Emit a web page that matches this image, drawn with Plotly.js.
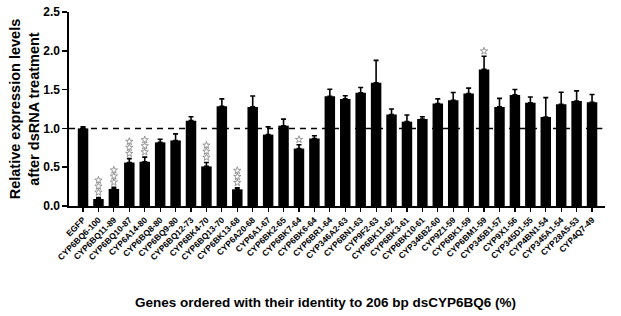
<!DOCTYPE html>
<html><head><meta charset="utf-8">
<script src="https://cdn.plot.ly/plotly-3.0.1.min.js"></script>
<style>html,body{margin:0;padding:0;background:#fff}#chart{width:621px;height:316px}</style>
</head><body><div id="chart"></div>
<script>
const genes = ["EGFP","CYP6BQ6-100","CYP6BQ11-89","CYP6BQ10-87","CYP6A14-80","CYP6BQ8-80","CYP6BQ9-80","CYP6BQ12-73","CYP6BK4-70","CYP6BQ13-70","CYP6BK13-68","CYP6A20-68","CYP6A1-67","CYP6BK2-65","CYP6BK7-64","CYP6BK6-64","CYP6BR1-64","CYP346A2-63","CYP6BN1-63","CYP9F2-63","CYP6BK11-62","CYP6BK3-61","CYP6BK10-61","CYP346B2-60","CYP9Z1-59","CYP6BK1-59","CYP6BM1-59","CYP345B1-57","CYP9X1-56","CYP345D1-55","CYP4BN1-54","CYP345A1-54","CYP28A5-53","CYP4Q7-49"];
const expression = [1.0,0.09,0.22,0.56,0.57,0.82,0.845,1.10,0.51,1.285,0.215,1.277,0.92,1.035,0.74,0.87,1.414,1.38,1.458,1.587,1.18,1.087,1.12,1.32,1.362,1.449,1.76,1.277,1.432,1.33,1.147,1.31,1.354,1.336];
const errorUp = [0.02,0.02,0.02,0.05,0.06,0.04,0.085,0.05,0.05,0.095,0.02,0.14,0.10,0.085,0.05,0.035,0.09,0.04,0.07,0.29,0.07,0.085,0.03,0.06,0.10,0.07,0.17,0.11,0.07,0.075,0.25,0.155,0.13,0.10];
const significance = ["","***","***","***","***","","","","***","","***","","","","*","","","","","","","","","","","","*","","","","","","",""];
const yTickVals = [0,0.5,1.0,1.5,2.0,2.5];
const yTickText = ["0.0","0.5","1.0","1.5","2.0","2.5"];
const controlLevel = 1.0;

const font = "Liberation Sans, Arial, sans-serif";
// star marks stacked above the error bar caps (offsets in axis units: ~5px first, ~6px apart)
const starGap0 = 0.066, starGap = 0.078;
const starX = [], starY = [];
significance.forEach((s,i)=>{
  for (let k=0;k<s.length;k++){ starX.push(genes[i]); starY.push(expression[i]+errorUp[i]+starGap0+k*starGap); }
});

const bars = {
  type:"bar", x:genes, y:expression, width:0.68,
  marker:{color:"#000", line:{width:0}},
  error_y:{type:"data", symmetric:false, array:errorUp, arrayminus:expression.map(()=>0),
    color:"#000", thickness:1.6, width:2.5},
  showlegend:false
};
const stars = {
  type:"scatter", mode:"markers", showlegend:false, hoverinfo:"skip",
  x:starX, y:starY,
  marker:{symbol:"star-open", size:5.5, color:"#808080", line:{color:"#808080", width:0.8}}
};

const layout = {
  width:621, height:316,
  margin:{l:69, r:16, t:12, b:110},
  paper_bgcolor:"#fff", plot_bgcolor:"#fff",
  font:{family:font, color:"#000"},
  xaxis:{
    type:"category", range:[-0.91, 33.84],
    tickangle:-45, tickfont:{family:font, size:8.5, color:"#000", weight:"bold"},
    showline:true, linecolor:"#000", linewidth:1.6,
    ticks:"outside", ticklen:4, tickwidth:1.2, tickcolor:"#000",
    showgrid:false, zeroline:false, automargin:false
  },
  yaxis:{
    range:[0,2.5], tickvals:yTickVals, ticktext:yTickText,
    tickfont:{family:font, size:12, color:"#000", weight:"bold"},
    showline:true, linecolor:"#000", linewidth:1.6,
    ticks:"outside", ticklen:5, tickwidth:1.6, tickcolor:"#000",
    showgrid:false, zeroline:false, automargin:false,
    title:{text:"<b>Relative expression levels<br>after dsRNA treatment</b>",
      font:{family:font, size:14.5, color:"#000"}, standoff:0}
  },
  annotations:[{xref:"paper", yref:"paper", x:0.478, y:-0.495, xanchor:"center", yanchor:"middle",
    showarrow:false, text:"<b>Genes ordered with their identity to 206 bp dsCYP6BQ6 (%)</b>",
    font:{family:font, size:13.5, color:"#000"}}],
  shapes:[{type:"line", xref:"paper", yref:"y", x0:0, x1:0.995, y0:controlLevel, y1:controlLevel,
    line:{color:"#000", width:1.5, dash:"6px,5px"}, layer:"above"}]
};
Plotly.newPlot("chart",[bars,stars],layout,{staticPlot:true});
</script></body></html>
